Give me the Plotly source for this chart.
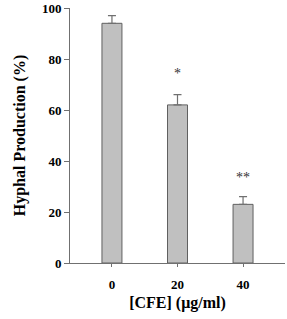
import plotly.graph_objects as go

categories = ["0", "20", "40"]
values = [94, 62, 23]
errors = [3, 4, 3]
marks = ["", "*", "**"]
mark_y = [0, 74.5, 33.5]
y_ticks = [0, 20, 40, 60, 80, 100]

font_family = "Liberation Serif, Times New Roman, serif"

fig = go.Figure()
fig.add_trace(go.Bar(
    x=categories, y=values, width=0.305,
    marker=dict(color="#c0c0c0", line=dict(color="#606060", width=1)),
    error_y=dict(type="data", array=errors, arrayminus=[0, 0, 0], symmetric=False,
                 color="#707070", thickness=1.2, width=4),
))
for i, (m, yy) in enumerate(zip(marks, mark_y)):
    if m:
        fig.add_annotation(x=i, y=yy, xref="x", yref="y", text=m, showarrow=False,
                           font=dict(family=font_family, size=14, color="#333333"),
                           xanchor="center", yanchor="middle")

fig.update_layout(
    width=287, height=319,
    margin=dict(l=70, r=2, t=8, b=56),
    paper_bgcolor="white", plot_bgcolor="white",
    showlegend=False,
    font=dict(family=font_family, color="black"),
    xaxis=dict(
        type="category", range=[-0.64, 2.64],
        showline=True, linecolor="#707070", linewidth=1,
        ticks="outside", ticklen=3, tickcolor="#707070",
        ticklabelstandoff=6,
        tickfont=dict(family=font_family, size=13, weight="bold"),
        title=dict(text="[CFE] (μg/ml)", font=dict(family=font_family, size=16, weight="bold"), standoff=6),
        showgrid=False, zeroline=False,
    ),
    yaxis=dict(
        range=[0, 100], tickvals=y_ticks,
        showline=True, linecolor="#707070", linewidth=1,
        ticks="outside", ticklen=5, tickcolor="#707070",
        tickfont=dict(family=font_family, size=13, weight="bold"),
        title=dict(text="Hyphal Production (%)", font=dict(family=font_family, size=16, weight="bold"), standoff=12),
        showgrid=False, zeroline=False,
    ),
)

fig.write_html("out.html")
